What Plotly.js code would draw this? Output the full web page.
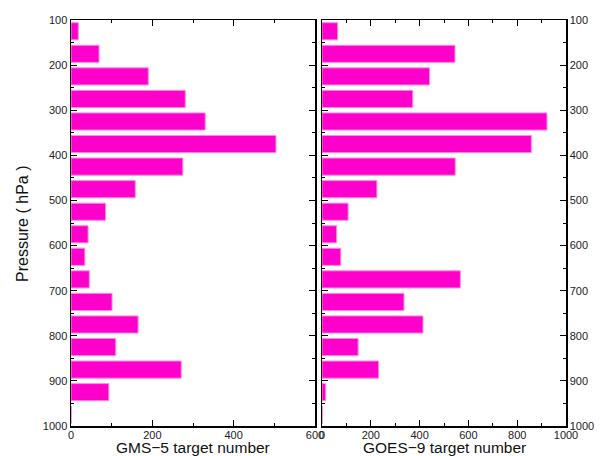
<!DOCTYPE html>
<html>
<head>
<meta charset="utf-8">
<script src="https://cdn.plot.ly/plotly-3.0.1.min.js"></script>
<style>html,body{margin:0;padding:0;background:#fff}#chart{width:600px;height:456px}</style>
</head>
<body>
<div id="chart"></div>
<script>
// Pressure levels (hPa), centre of each 50 hPa layer
var pressure = [125, 175, 225, 275, 325, 375, 425, 475, 525, 575, 625, 675, 725, 775, 825, 875, 925, 975];
// GMS-5 target numbers
var gms5 = [18, 69, 190, 281, 330, 504, 275, 158, 85, 42, 34, 45, 101, 165, 110, 271, 93, 1];
// GOES-9 target numbers
var goes9 = [64, 545, 441, 372, 922, 858, 546, 225, 107, 60, 77, 567, 336, 414, 148, 232, 15, 2];
var pTicks = [100, 200, 300, 400, 500, 600, 700, 800, 900, 1000];
var xTicks1 = [0, 200, 400, 600];
var xTicks2 = [0, 200, 400, 600, 800, 1000];

var barStyle = {color: 'rgb(255,0,204)', line: {color: 'rgb(255,140,225)', width: 1}};
var tickFont = {family: 'Liberation Sans, Arial, sans-serif', size: 11, color: '#222'};
var titleFont = {family: 'Liberation Sans, Arial, sans-serif', size: 15.5, color: '#111'};

var traces = [
  {type: 'bar', orientation: 'h', y: pressure, x: gms5, width: 38, marker: barStyle, xaxis: 'x', yaxis: 'y', hoverinfo: 'x+y'},
  {type: 'bar', orientation: 'h', y: pressure, x: goes9, width: 38, marker: barStyle, xaxis: 'x2', yaxis: 'y2', hoverinfo: 'x+y'}
];

function xAxis(domain, range, ticks, anchor) {
  return {
    domain: domain, range: range, tickvals: ticks, ticktext: ticks.map(String),
    ticks: 'inside', ticklen: 6, tickwidth: 1.2, tickcolor: '#000', ticklabelstandoff: -2,
    minor: {dtick: (ticks[1] - ticks[0]) / 2, ticks: 'inside', ticklen: 3, tickwidth: 1, tickcolor: '#000', showgrid: false},
    showline: true, linecolor: '#000', linewidth: 1.5, mirror: 'ticks',
    showgrid: false, zeroline: false, tickfont: tickFont, anchor: anchor, fixedrange: true
  };
}
function yAxis(side, anchor) {
  return {
    domain: [1 - 426/456, 1 - 20/456], range: [1000, 100], tickvals: pTicks, ticktext: pTicks.map(String),
    ticks: 'inside', ticklen: 6, tickwidth: 1.2, tickcolor: '#000',
    minor: {dtick: 50, ticks: 'inside', ticklen: 3, tickwidth: 1, tickcolor: '#000', showgrid: false},
    showline: true, linecolor: '#000', linewidth: 1.5, mirror: 'ticks',
    showgrid: false, zeroline: false, tickfont: tickFont, side: side, anchor: anchor, fixedrange: true
  };
}

var layout = {
  width: 600, height: 456,
  margin: {l: 0, r: 0, t: 0, b: 0},
  paper_bgcolor: '#fff', plot_bgcolor: '#fff',
  showlegend: false, bargap: 0,
  xaxis: xAxis([71/600, 315/600], [0, 600], xTicks1, 'y'),
  xaxis2: xAxis([322/600, 566/600], [0, 1000], xTicks2, 'y2'),
  yaxis: yAxis('left', 'x'),
  yaxis2: yAxis('right', 'x2'),
  annotations: [
    {text: 'Pressure ( hPa )', xref: 'paper', yref: 'paper', x: 22/600, y: 1 - 224/456,
     showarrow: false, textangle: -90, font: {family: titleFont.family, size: 16, color: '#111'}, xanchor: 'center', yanchor: 'middle'},
    {text: 'GMS\u22125 target number', xref: 'paper', yref: 'paper', x: 193/600, y: 1 - 447.5/456,
     showarrow: false, font: titleFont, xanchor: 'center', yanchor: 'middle'},
    {text: 'GOES\u22129 target number', xref: 'paper', yref: 'paper', x: 444/600, y: 1 - 447.5/456,
     showarrow: false, font: titleFont, xanchor: 'center', yanchor: 'middle'}
  ]
};

Plotly.newPlot('chart', traces, layout, {staticPlot: true});
</script>
</body>
</html>
